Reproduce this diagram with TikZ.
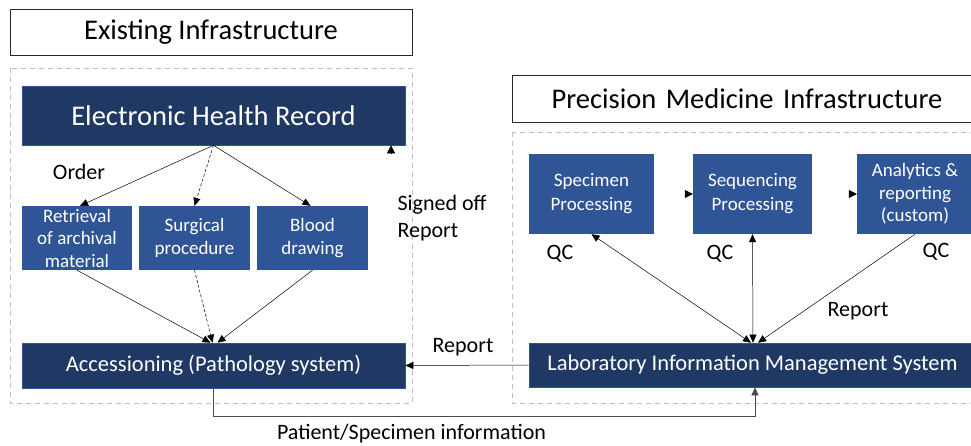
\documentclass[tikz,border=0pt]{standalone}
\usepackage{fontspec}
\setmainfont{Carlito}
\usetikzlibrary{arrows.meta,calc}
\definecolor{navy}{HTML}{203864}
\definecolor{midblue}{HTML}{2F5597}
\definecolor{dashgray}{HTML}{BFBFBF}
\tikzset{
  tip/.tip={Triangle[length=8pt,width=7pt]},
  darkbox/.style={fill=navy,draw=midblue,line width=0.6pt,text=white,inner sep=0pt,align=center},
  lightbox/.style={fill=midblue,draw=none,text=white,inner sep=0pt,align=center,font=\fontsize{19}{22.5}\selectfont},
  titlebox/.style={draw=black!85,line width=0.8pt,inner sep=0pt,font=\fontsize{28.5}{32}\selectfont},
  container/.style={draw=dashgray,dashed,dash pattern=on 5pt off 4pt,line width=0.8pt},
  conn/.style={draw=black,line width=0.5pt,-tip},
  dconn/.style={conn,densely dashed},
  biconn/.style={draw=black,line width=0.5pt,tip-tip},
  headonly/.style={draw=black,line width=0.5pt,-{Triangle[length=8pt,width=8pt]}},
  lbl/.style={font=\fontsize{22}{26}\selectfont,inner sep=0pt},
}
\begin{document}
\begin{tikzpicture}[x=1pt,y=-1pt]
\useasboundingbox (0,0) rectangle (971,445);
\clip (0,0) rectangle (971,445);
% containers
\draw[container] (10,68) rectangle (412,403);
\draw[container] (512,132) rectangle (990,403);
% titles
\node[titlebox,minimum width=402,minimum height=46] (t1) at (211,32) {Existing Infrastructure};
\node[titlebox,minimum width=470,minimum height=47,text width=470,align=center] (t2) at (747,98.5) {Precision Medicine Infrastructure};
% left nodes
\node[darkbox,minimum width=383,minimum height=59,font=\fontsize{28.5}{32}\selectfont] (ehr) at (213.5,115.5) {Electronic Health Record};
\node[lightbox,minimum width=110,minimum height=64] (ret) at (77,238) {Retrieval\\of archival\\material};
\node[lightbox,minimum width=111,minimum height=64] (surg) at (194.5,238) {Surgical\\procedure};
\node[lightbox,minimum width=111,minimum height=64] (blood) at (312.5,238) {Blood\\drawing};
\node[darkbox,minimum width=383,minimum height=45,font=\fontsize{22.5}{26}\selectfont] (acc) at (213.5,365.5) {Accessioning (Pathology system)};
% right nodes
\node[lightbox,minimum width=125,minimum height=80,font=\fontsize{19}{24}\selectfont] (spec) at (591.5,194) {Specimen\\Processing};
\node[lightbox,minimum width=119,minimum height=80,font=\fontsize{19}{24}\selectfont] (seq) at (752.5,194) {Sequencing\\Processing};
\node[lightbox,minimum width=116,minimum height=80] (ana) at (915,194) {Analytics \&\\reporting\\(custom)};
\node[darkbox,minimum width=447,minimum height=44,font=\fontsize{22.5}{26}\selectfont] (lims) at (752.5,365) {Laboratory Information Management System};
% labels
\node[lbl] (order) at (79,172) {Order};
\node[lbl,align=left,font=\fontsize{22}{27}\selectfont] (signed) at (442,218) {Signed off\\Report};
\node[lbl] (qc1) at (560,254) {QC};
\node[lbl] (qc2) at (720,254) {QC};
\node[lbl] (qc3) at (936,252) {QC};
\node[lbl] (rep1) at (858,311) {Report};
\node[lbl] (rep2) at (463,347) {Report};
\node[lbl] (pat) at (411.5,434) {Patient/Specimen information};
% connectors left
\draw[conn] (ehr.south) -- ([xshift=3]ret.north);
\draw[dconn] (ehr.south) -- (surg.north);
\draw[conn] (ehr.south) -- ([xshift=-2]blood.north);
\draw[conn] (ret.south) -- ([xshift=-3]acc.north);
\draw[dconn] (surg.south) -- ([xshift=-1]acc.north);
\draw[conn] (blood.south) -- ([xshift=4]acc.north);
\coordinate (so) at (391,154);
\draw[headonly] (so) -- (so |- ehr.south);
% connectors right
\coordinate (a1) at (685,194);
\coordinate (a2) at (849,194);
\draw[headonly] (a1) -- (seq.west);
\draw[headonly] (a2) -- (ana.west);
\draw[biconn] (spec.south) -- ([xshift=-1.5]lims.north);
\draw[biconn] (seq.south) -- ([xshift=0.5]lims.north);
\draw[conn] (ana.south) -- ([xshift=5.5]lims.north);
\draw[conn] (lims.west) -- (acc.east);
\draw[draw=black!70,line width=0.6pt,-tip] (acc.south) -- ++(0,28) -| ([xshift=2.5]lims.south);
\end{tikzpicture}
\end{document}
